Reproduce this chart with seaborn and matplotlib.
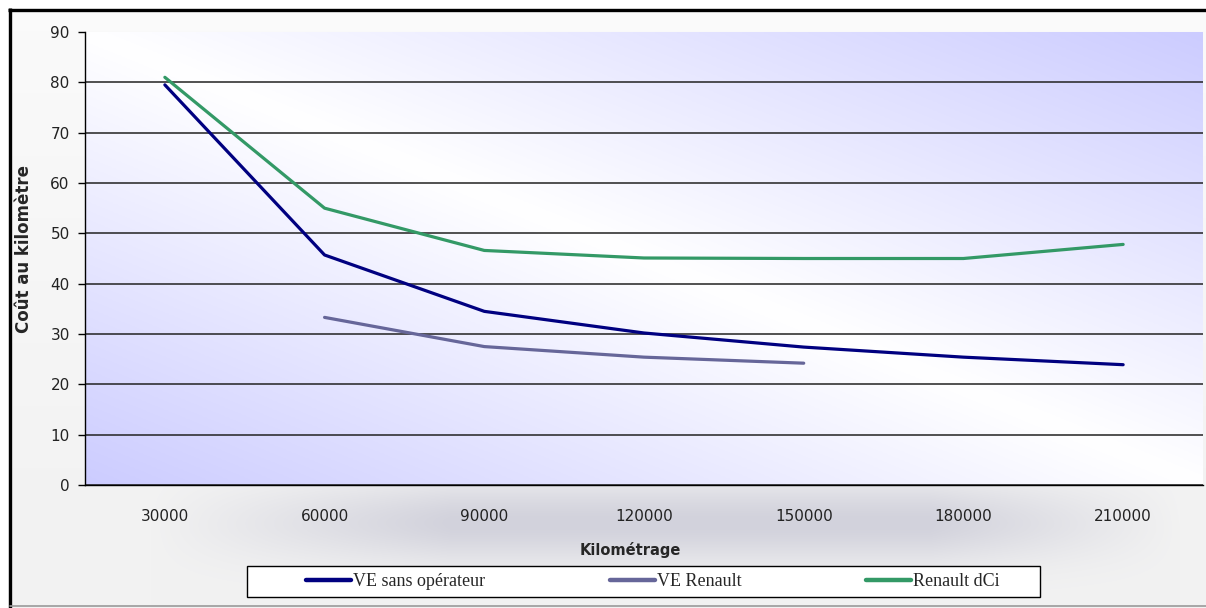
import numpy as np
import pandas as pd
import matplotlib
matplotlib.use('Agg')
import matplotlib.pyplot as plt
import seaborn as sns

# values (cost per km by mileage)
kilometrage = [30000, 60000, 90000, 120000, 150000, 180000, 210000]
ve_sans_operateur = [79.5, 45.7, 34.5, 30.2, 27.4, 25.4, 23.9]
ve_renault = [np.nan, 33.3, 27.5, 25.4, 24.2, np.nan, np.nan]
renault_dci = [81.0, 55.0, 46.6, 45.1, 45.0, 45.0, 47.8]
series_names = ['VE sans opérateur', 'VE Renault', 'Renault dCi']
series_colors = ['#000080', '#666699', '#339966']

# long format for seaborn, category index used as x position
rows = []
for name, vals in zip(series_names, [ve_sans_operateur, ve_renault, renault_dci]):
    for i, v in enumerate(vals):
        rows.append({'pos': i, 'cout': v, 'serie': name})
df = pd.DataFrame(rows).dropna()

sns.set_style('white')
plt.rcParams['font.family'] = ['DejaVu Sans']

W, H = 1206, 608
fig = plt.figure(figsize=(W / 100, H / 100), dpi=100)

# figure background: soft grey shading like the Excel chart area
bg = fig.add_axes([0, 0, 1, 1], zorder=-10)
yy, xx = np.mgrid[0:H, 0:W]
base = 250 - 8 * np.clip((yy - 30) / 500, 0, 1)
shade = (np.exp(-((yy - 522) / 40.0) ** 2)
         * np.clip((xx - 150) / 300, 0, 1) * np.clip((1180 - xx) / 250, 0, 1))
img = np.dstack([base - 32 * shade, base - 32 * shade, base - 22 * shade]) / 255
img[:8, :] = 1
img[:, :8] = 1
bg.imshow(np.clip(img, 0, 1), extent=(0, W, H, 0), aspect='auto')
bg.plot([8, W], [9.5, 9.5], color='black', lw=2.4, solid_capstyle='butt')
bg.plot([9.5, 9.5], [8, H], color='black', lw=2.4, solid_capstyle='butt')
bg.plot([10, W], [606, 606], color='#9a9a9a', lw=1.2)
# legend box (drawn by hand, Excel style)
bg.add_patch(plt.Rectangle((247, 566), 793, 31, facecolor='white',
                           edgecolor='black', lw=1.0))
bg.set_xlim(0, W)
bg.set_ylim(H, 0)
bg.axis('off')

ax = fig.add_axes([85 / W, 1 - 485 / H, 1118 / W, 453 / H])

# plot area diagonal gradient: lavender corners, white across the middle
gh, gw = 200, 400
v, u = np.mgrid[0:gh, 0:gw]
u = u / (gw - 1)
v = 1 - v / (gh - 1)
t = np.abs(u + v - 1)
lav = np.array([204, 204, 255]) / 255
grad = (1 - t)[..., None] * np.ones(3) + t[..., None] * lav
ax.imshow(grad, extent=(0, 1, 0, 1), transform=ax.transAxes, aspect='auto', zorder=0)

sns.lineplot(data=df, x='pos', y='cout', hue='serie', hue_order=series_names,
             palette=dict(zip(series_names, series_colors)), lw=2.3, ax=ax, zorder=3)

ax.set_xlim(-0.5, len(kilometrage) - 0.5)
ax.set_ylim(0, 90)
ax.set_yticks(range(0, 91, 10))
ax.set_xticks(range(len(kilometrage)))
ax.set_xticklabels([str(k) for k in kilometrage])
ax.set_xticks(np.arange(len(kilometrage) - 1) - 0.5, minor=True)
ax.tick_params(axis='x', which='major', length=0, pad=17, labelsize=11, labelcolor='#222222')
ax.tick_params(axis='x', which='minor', length=4.5, width=1, color='black', direction='out')
ax.tick_params(axis='y', length=5, width=1, color='black', direction='out', pad=6,
               labelsize=11, labelcolor='#222222', left=True)

ax.set_axisbelow(True)
ax.yaxis.grid(True, color='#222222', lw=1.1)
ax.xaxis.grid(False)
ax.get_ygridlines()[-1].set_visible(False)

for side in ['top', 'right']:
    ax.spines[side].set_visible(False)
for side in ['left', 'bottom']:
    ax.spines[side].set_color('black')
    ax.spines[side].set_linewidth(1.0)

ax.set_xlabel('Kilométrage', fontsize=10.5, fontweight='bold')
ax.set_ylabel('Coût au kilomètre', fontsize=12, fontweight='bold')
ax.xaxis.set_label_coords(0.488, -0.125)
ax.yaxis.set_label_coords(-0.0465, 0.52)

sns.move_legend(ax, loc='center left', bbox_to_anchor=(290 / W, 1 - 581.5 / H),
                bbox_transform=fig.transFigure, ncol=3, frameon=False, title=None,
                prop={'family': 'Liberation Serif', 'size': 13},
                handlelength=2.5, handletextpad=0.1, columnspacing=6.9)
for line in ax.get_legend().get_lines():
    line.set_linewidth(3.2)
    line.set_solid_capstyle('round')

fig.savefig('out.png', dpi=100)
